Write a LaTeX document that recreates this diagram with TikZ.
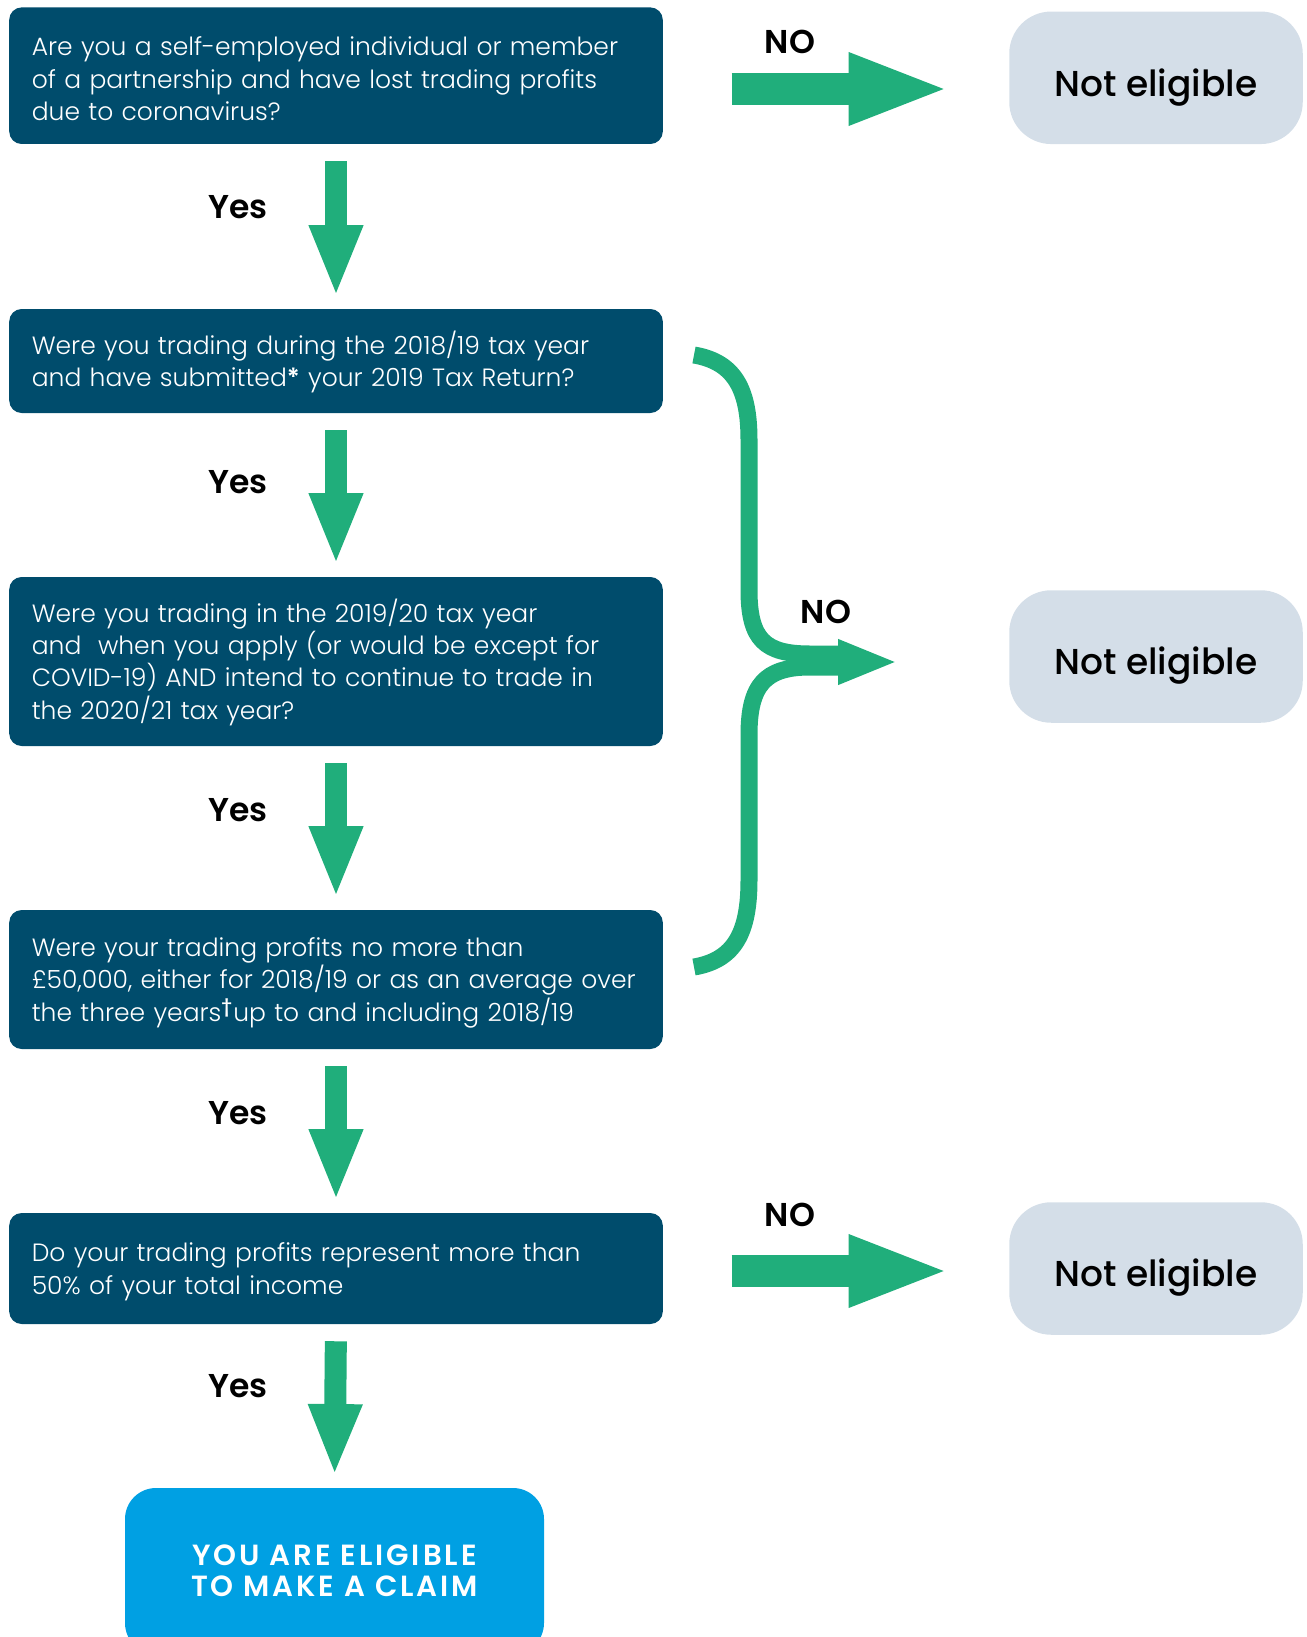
\documentclass[tikz,border=0pt]{standalone}
\usepackage{fontspec}
\setmainfont{Poppins}[UprightFont={* Light},BoldFont={* SemiBold}]
\newfontfamily\medfont{Poppins Medium}
\newfontfamily\capsfont{Poppins SemiBold}[LetterSpace=10]
\usetikzlibrary{arrows.meta}

\definecolor{qnavy}{RGB}{0,76,108}
\definecolor{arrgreen}{RGB}{32,174,123}
\definecolor{notgrey}{RGB}{212,222,232}
\definecolor{okblue}{RGB}{0,160,227}

\tikzset{every picture/.style={line width=0.75pt},
  qbox/.style={fill=qnavy,rounded corners=6.25pt,text=white,text width=304.2pt,inner xsep=11.3pt,
    align=left,minimum width=326.8pt,font=\fontsize{12.5}{16.2}\selectfont,
    execute at begin node={\rule{0pt}{12.5pt}}},
  nobox/.style={fill=notgrey,rounded corners=21pt,minimum width=146.75pt,minimum height=66.25pt,
    text height=18.3pt,text depth=0pt,font=\fontsize{18}{20}\medfont},
  okbox/.style={fill=okblue,rounded corners=15.5pt,text=white,minimum width=209.5pt,minimum height=83pt,
    align=center,font=\fontsize{14.6}{15.7}\capsfont},
  lbl/.style={font=\fontsize{16.5}{19}\selectfont\bfseries},
  nolbl/.style={font=\fontsize{16.5}{19}\selectfont\bfseries},
  downarr/.style={arrgreen,line width=11pt,-{Triangle[length=36pt,width=24.5pt]},
    shorten <=8.25pt,shorten >=5.6pt},
  noarr/.style={arrgreen,line width=16pt,-{Triangle[length=51pt,width=32.5pt]}},
  bracearr/.style={arrgreen,line width=8.5pt}
}

\begin{document}
\begin{tikzpicture}[x=0.5pt,y=0.5pt,yscale=-1,xscale=1]
\useasboundingbox (0,0) rectangle (1306,1637);

%Shape: Question boxes
\node [qbox,minimum height=68.3pt] (q1) at (336,75.7) {Are you a self-employed individual or member\\of a partnership and have lost trading profits\\due to coronavirus?};
\node [qbox,minimum height=52pt] (q2) at (336,361) {Were you trading during the 2018/19 tax year\\and have submitted\textbf{*} your 2019 Tax Return?};
\node [qbox,minimum height=84.5pt] (q3) at (336,661.5) {Were you trading in the 2019/20 tax year\\and~ when you apply (or would be except for\\COVID-19) AND intend to continue to trade in\\the 2020/21 tax year?};
\node [qbox,minimum height=69.5pt] (q4) at (336,979.5) {Were your trading profits no more than\\£50,000, either for 2018/19 or as an average over\\the three years\textsuperscript{\textbf{†}}up to and including 2018/19};
\node [qbox,minimum height=55.5pt] (q5) at (336,1268.5) {Do your trading profits represent more than\\50\% of your total income};

%Shape: Result boxes
\node [okbox] (ok) at (334.5,1571) {YOU ARE ELIGIBLE\\TO MAKE A CLAIM};
\node [nobox] (ne1) at (1156,77.8) {Not eligible};
\node [nobox] (ne2) at (1156,656.5) {Not eligible};
\node [nobox] (ne3) at (1156,1268.5) {Not eligible};

%Shape: Yes arrows
\draw [downarr] (q1.south) -- (q2.north);
\draw [downarr] (q2.south) -- (q3.north);
\draw [downarr] (q3.south) -- (q4.north);
\draw [downarr] (q4.south) -- (q5.north);
\draw [downarr] (q5.south) -- (ok.north);

% Text Node
\node [lbl] (y1) at (238,207) {Yes};
\node [lbl] (y2) at (238,482) {Yes};
\node [lbl] (y3) at (238,810) {Yes};
\node [lbl] (y4) at (238,1113) {Yes};
\node [lbl] (y5) at (238,1386) {Yes};

%Shape: NO arrows
\draw [noarr,shorten <=34pt,shorten >=29pt] ([yshift=6.65pt]q1.east) -- ([yshift=6.65pt]q1.east -| ne1.west);
\draw [noarr,shorten <=34pt,shorten >=29pt] ([yshift=1.25pt]q5.east) -- ([yshift=1.25pt]q5.east -| ne3.west);

%Shape: Brace
\draw [bracearr] (694,355) .. controls (735,362) and (749,390) .. (749,440) -- (749,590) .. controls (749,640) and (765,654) .. (810,654) -- (838,654);
\draw [bracearr] (694,967) .. controls (735,960) and (749,932) .. (749,880) -- (749,735) .. controls (749,685) and (765,667) .. (810,667) -- (838,667);
\coordinate (brj) at (830,662);
\draw [arrgreen,line width=10pt,-{Triangle[length=30pt,width=20.5pt]},shorten >=55.25pt] (brj) -- (brj -| ne2.west);

% Text Node
\node [nolbl] (n1) at (790,42) {NO};
\node [nolbl] (n2) at (826,612) {NO};
\node [nolbl] (n3) at (790,1215) {NO};

\end{tikzpicture}
\end{document}
